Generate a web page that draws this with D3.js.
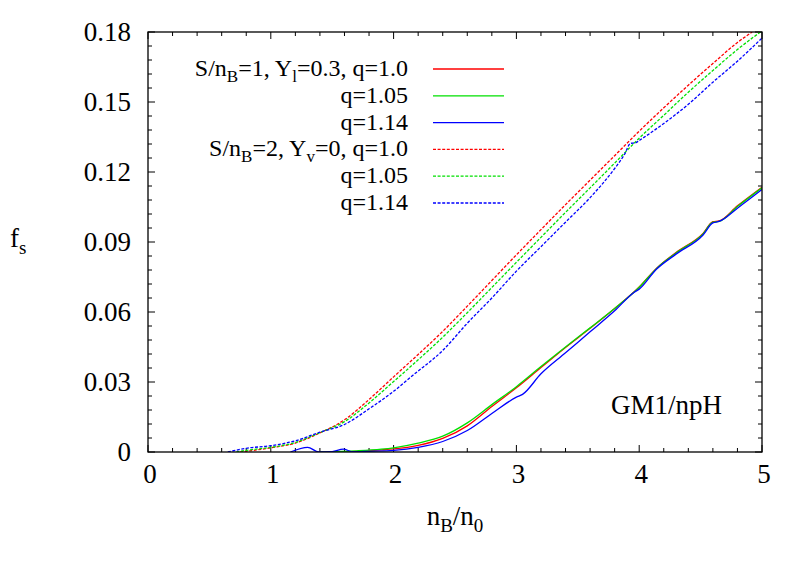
<!DOCTYPE html>
<html><head><meta charset="utf-8">
<script src="https://cdn.jsdelivr.net/npm/d3@7"></script>
<style>
body{margin:0;background:#fff;}
</style></head>
<body><svg id="c" width="807" height="565"></svg>
<script>
// ---- data ----
const xTicks = [0,1,2,3,4,5];
const xTickLabels = ["0","1","2","3","4","5"];
const yTicks = [0,0.03,0.06,0.09,0.12,0.15,0.18];
const yTickLabels = ["0","0.03","0.06","0.09","0.12","0.15","0.18"];

// S/nB=1, Yl=0.3 (solid)
const s1q100 = [[1.4,0],[1.7,0.0003],[1.9,0.0009],[2.0,0.0013],[2.2,0.0028],[2.4,0.0058],[2.6,0.0112],[2.8,0.0195],[3.0,0.0275],[3.2,0.0362],[3.4,0.0448],[3.6,0.053],[3.8,0.0615],[4.0,0.0707],[4.14,0.0787],[4.3,0.0855],[4.52,0.0937],[4.6,0.0987],[4.65,0.099],[4.8,0.1055],[5.0,0.1135]];
const s1q105 = [[1.4,0],[1.7,0.0005],[1.9,0.0012],[2.0,0.0018],[2.2,0.0038],[2.4,0.0068],[2.6,0.0125],[2.8,0.0203],[3.0,0.028],[3.2,0.0366],[3.4,0.045],[3.6,0.0532],[3.8,0.0615],[4.0,0.0706],[4.14,0.0786],[4.3,0.0853],[4.52,0.0935],[4.6,0.0985],[4.65,0.0988],[4.8,0.1052],[5.0,0.1132]];
const s1q114 = [[1.16,0],[1.3,0.002],[1.39,0],[1.5,0.0002],[1.59,0.0012],[1.67,0.0001],[1.8,0.0003],[2.0,0.0007],[2.2,0.002],[2.4,0.0045],[2.6,0.0092],[2.8,0.0165],[3.0,0.0235],[3.05,0.0247],[3.2,0.0335],[3.4,0.0425],[3.6,0.0515],[3.8,0.0605],[3.96,0.0685],[4.0,0.0698],[4.14,0.0783],[4.3,0.0848],[4.52,0.093],[4.6,0.0982],[4.65,0.0988],[4.8,0.1045],[5.0,0.1125]];
// S/nB=2, Yv=0 (dashed)
const s2q100 = [[0.75,0],[0.8,0.0003],[1.0,0.0018],[1.2,0.0038],[1.4,0.0082],[1.6,0.0138],[1.8,0.0225],[2.0,0.0322],[2.2,0.0418],[2.4,0.0517],[2.6,0.0625],[2.8,0.0735],[3.0,0.0845],[3.2,0.0953],[3.4,0.106],[3.6,0.1165],[3.8,0.127],[4.0,0.1375],[4.2,0.1475],[4.4,0.1572],[4.6,0.1665],[4.8,0.1755],[4.92,0.18]];
const s2q105 = [[0.72,0],[0.8,0.0007],[1.0,0.002],[1.2,0.0041],[1.4,0.0083],[1.6,0.013],[1.8,0.021],[2.0,0.0302],[2.2,0.0395],[2.4,0.0492],[2.6,0.0597],[2.8,0.0705],[3.0,0.0813],[3.2,0.092],[3.4,0.1027],[3.6,0.1132],[3.8,0.1238],[4.0,0.1345],[4.2,0.1443],[4.4,0.1542],[4.6,0.1635],[4.8,0.1725],[5.0,0.1805]];
const s2q114 = [[0.65,0],[0.8,0.0016],[1.0,0.0027],[1.2,0.0048],[1.4,0.0085],[1.6,0.0118],[1.8,0.0185],[2.0,0.026],[2.16,0.033],[2.4,0.0435],[2.6,0.0552],[2.8,0.066],[3.0,0.0775],[3.2,0.088],[3.4,0.0985],[3.6,0.109],[3.8,0.1215],[3.88,0.1275],[3.93,0.1323],[3.97,0.1325],[4.0,0.1335],[4.2,0.1408],[4.4,0.149],[4.6,0.1585],[4.8,0.1675],[5.0,0.1774]];

const seriesNames = ["s1q100","s1q105","s1q114","s2q100","s2q105","s2q114"];
const seriesData = [s1q100,s1q105,s1q114,s2q100,s2q105,s2q114];
const seriesColors = ["#ff0000","#00e000","#0000ff","#ff0000","#00e000","#0000ff"];
const seriesDashed = [false,false,false,true,true,true];

// ---- layout ----
const FONT = "Liberation Serif";
const FS = 27, SUB = 19, SUBDY = 7;
const LFS = 24, LSUB = 17, LSUBDY = 6;
const svg = d3.select("#c");
const L=148, R=762, T=32, B=452;
const x = d3.scaleLinear().domain([0,5]).range([L,R]);
const y = d3.scaleLinear().domain([0,0.18]).range([B,T]);

function txt(xp, yp, anchor, fs){
  return svg.append("text").attr("x",xp).attr("y",yp).attr("text-anchor",anchor)
    .attr("font-family",FONT).attr("font-size",fs||FS).attr("fill","#000");
}

svg.append("defs").append("clipPath").attr("id","clip")
  .append("rect").attr("x",L).attr("y",T).attr("width",R-L).attr("height",B-T);

// ticks (inward, all four sides)
const tg = svg.append("g").attr("stroke","#000").attr("stroke-width",1);
const xMinor = d3.range(0,5.0001,0.2);
xMinor.forEach(v=>{
  const major = Math.abs(v-Math.round(v))<1e-6;
  const len = major?7:4;
  tg.append("line").attr("x1",x(v)).attr("x2",x(v)).attr("y1",B).attr("y2",B-len);
  tg.append("line").attr("x1",x(v)).attr("x2",x(v)).attr("y1",T).attr("y2",T+len);
});
const yMinor = d3.range(0,0.18001,0.006);
yMinor.forEach((v,i)=>{
  const major = i%5===0;
  const len = major?7:4;
  tg.append("line").attr("y1",y(v)).attr("y2",y(v)).attr("x1",L).attr("x2",L+len);
  tg.append("line").attr("y1",y(v)).attr("y2",y(v)).attr("x1",R).attr("x2",R-len);
});

// data lines
const line = d3.line().x(d=>x(d[0])).y(d=>y(d[1])).curve(d3.curveMonotoneX);
const pg = svg.append("g").attr("clip-path","url(#clip)");
seriesData.forEach((d,i)=>{
  pg.append("path").datum(d).attr("d",line).attr("fill","none")
    .attr("stroke",seriesColors[i]).attr("stroke-width",1.3)
    .attr("stroke-dasharray",seriesDashed[i]?"3,1.6":null);
});

// frame
svg.append("rect").attr("x",L).attr("y",T).attr("width",R-L).attr("height",B-T)
  .attr("fill","none").attr("stroke","#000").attr("stroke-width",1.3);

// tick labels
xTicks.forEach((v,i)=>{ txt(x(v)+2, B+31, "middle").text(xTickLabels[i]); });
yTicks.forEach((v,i)=>{ txt(131, y(v)+9, "end").text(yTickLabels[i]); });

// axis titles
const yl = txt(10, 247, "start");
yl.append("tspan").text("f");
yl.append("tspan").attr("font-size",SUB).attr("dy",SUBDY).text("s");

const xl = txt(455, 525, "middle");
xl.append("tspan").text("n");
xl.append("tspan").attr("font-size",SUB).attr("dy",SUBDY).text("B");
xl.append("tspan").attr("dy",-SUBDY).text("/n");
xl.append("tspan").attr("font-size",SUB).attr("dy",SUBDY).text("0");

// legend
const legY0 = 69, legDy = 26.8, legTextX = 408, legX1 = 433, legX2 = 504;
const legendParts = [
  [["S/n",0],["B",1],["=1, Y",0],["l",1],["=0.3, q=1.0",0]],
  [["q=1.05",0]],
  [["q=1.14",0]],
  [["S/n",0],["B",1],["=2, Y",0],["v",1],["=0, q=1.0",0]],
  [["q=1.05",0]],
  [["q=1.14",0]]
];
legendParts.forEach((parts,i)=>{
  const yy = legY0 + i*legDy;
  const t = txt(legTextX, yy+7, "end", LFS);
  let prevSub = 0;
  parts.forEach(p=>{
    const ts = t.append("tspan").text(p[0]);
    if(p[1]){ ts.attr("font-size",LSUB); }
    const dy = (p[1]?LSUBDY:0) - (prevSub?LSUBDY:0);
    if(dy) ts.attr("dy",dy);
    prevSub = p[1];
  });
  svg.append("line").attr("x1",legX1).attr("x2",legX2).attr("y1",yy).attr("y2",yy)
    .attr("stroke",seriesColors[i]).attr("stroke-width",1.3)
    .attr("stroke-dasharray",seriesDashed[i]?"3,1.6":null);
});

txt(722, 414, "end").text("GM1/npH");
</script></body></html>
